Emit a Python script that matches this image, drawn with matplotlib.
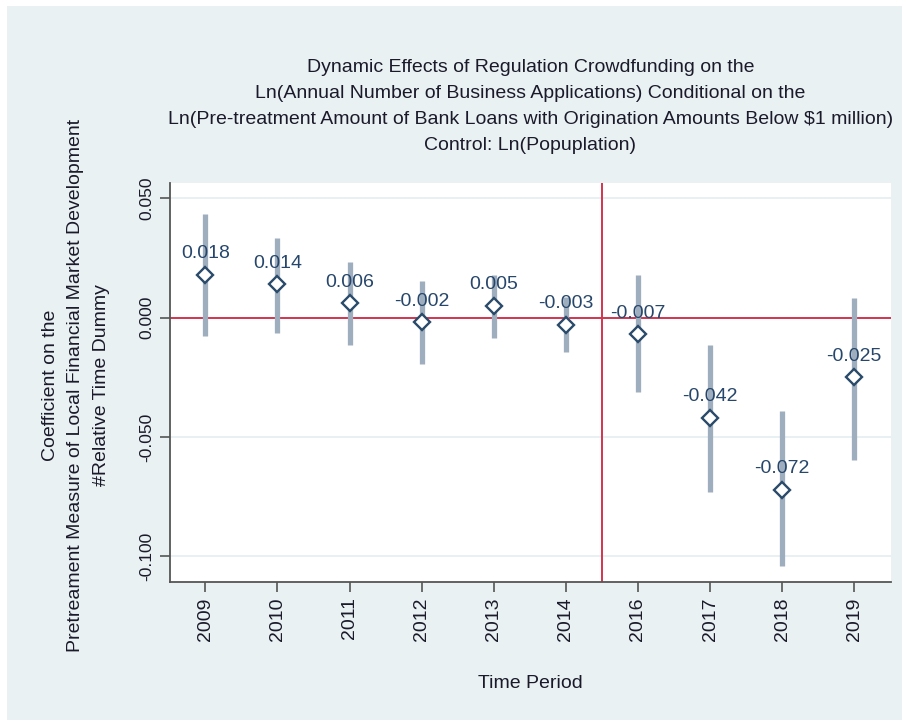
import matplotlib
matplotlib.use("Agg")
import matplotlib.pyplot as plt
from matplotlib.patches import Rectangle
import numpy as np

plt.rcParams["font.family"] = ["Liberation Sans", "DejaVu Sans"]

# ── Data ──────────────────────────────────────────────────────────────────────
years   = ["2009", "2010", "2011", "2012", "2013", "2014", "2016", "2017", "2018", "2019"]
coef    = [0.018, 0.014, 0.006, -0.002, 0.005, -0.003, -0.007, -0.042, -0.072, -0.025]
ci_low  = [-0.0078, -0.0066, -0.0114, -0.0194, -0.0084, -0.0145, -0.0313, -0.0732, -0.1040, -0.0596]
ci_high = [0.0435, 0.0333, 0.0234, 0.0151, 0.0180, 0.0085, 0.0176, -0.0117, -0.0393, 0.0082]
labels  = ["0.018", "0.014", "0.006", "-0.002", "0.005", "-0.003", "-0.007", "-0.042", "-0.072", "-0.025"]
yticks  = [0.050, 0.000, -0.050, -0.100]
ytick_labels = ["0.050", "0.000", "-0.050", "-0.100"]

title_lines = [
    "Dynamic Effects of Regulation Crowdfunding on the",
    "Ln(Annual Number of Business Applications) Conditional on the",
    "Ln(Pre-treatment Amount of Bank Loans with Origination Amounts Below $1 million)",
    "Control: Ln(Popuplation)",
]
ylabel_lines = [
    "Coefficient on the",
    "Pretreament Measure of Local Financial Market Development",
    "#Relative Time Dummy",
]

BG     = "#EAF1F3"
RED    = "#D2344F"
CI_COL = "#9FAEBE"
NAVY   = "#2A4A6A"
LBL    = "#26466B"
TXT    = "#1a1a2a"

W, H = 902, 720
fig = plt.figure(figsize=(W / 100, H / 100), dpi=100)
fig.patch.set_facecolor("white")
fig.add_artist(Rectangle((7 / W, 0), 1 - 7 / W, 1 - 6 / H, transform=fig.transFigure,
                         facecolor=BG, edgecolor="none", zorder=-10))

ax = fig.add_axes([170 / W, (H - 581.5) / H, (891 - 170) / W, (581.5 - 183) / H])
ax.set_facecolor("white")

x = np.arange(len(years))

# gridlines
for yv in yticks:
    if yv != 0:
        ax.axhline(yv, color="#E6EFF2", lw=1.3, zorder=0)

ax.axhline(0, color=RED, lw=1.4, zorder=1)
ax.axvline(5.5, color=RED, lw=1.4, zorder=1)

ax.vlines(x, ci_low, ci_high, color=CI_COL, lw=3.8, zorder=2)
ax.plot(x, coef, linestyle="none", marker="D", ms=8.5, mfc="white", mec=NAVY, mew=1.7, zorder=3)

for xi, c, lab in zip(x, coef, labels):
    ax.annotate(lab, (xi, c), xytext=(0, 9), textcoords="offset points",
                ha="center", va="bottom", fontsize=14, color=LBL, zorder=4)

ax.set_xlim(-0.49, 9.51)
ax.set_ylim(-0.1105, 0.0563)

ax.set_xticks(x)
ax.set_xticklabels(years, rotation=90, fontsize=14, color=TXT)
ax.set_yticks(yticks)
ax.set_yticklabels(ytick_labels, rotation=90, va="center", fontsize=12.5, color=TXT)
ax.tick_params(axis="both", length=7.5, width=1.2, color="#555555", pad=4)

for s in ["top", "right"]:
    ax.spines[s].set_visible(False)
for s in ["left", "bottom"]:
    ax.spines[s].set_color("#555555")
    ax.spines[s].set_linewidth(1.3)

# title
cx = (170 + 891) / 2 / W
for i, line in enumerate(title_lines):
    fig.text(cx, 1 - (68 + i * 26) / H, line, ha="center", va="center", fontsize=14, color=TXT)

# y label
for i, line in enumerate(ylabel_lines):
    fig.text((51 + i * 25) / W, 1 - 385 / H, line, rotation=90, ha="center", va="center",
             fontsize=14, color=TXT)

fig.text(cx, 1 - 684 / H, "Time Period", ha="center", va="center", fontsize=14, color=TXT)

fig.savefig("out.png", dpi=100, facecolor=fig.get_facecolor())
